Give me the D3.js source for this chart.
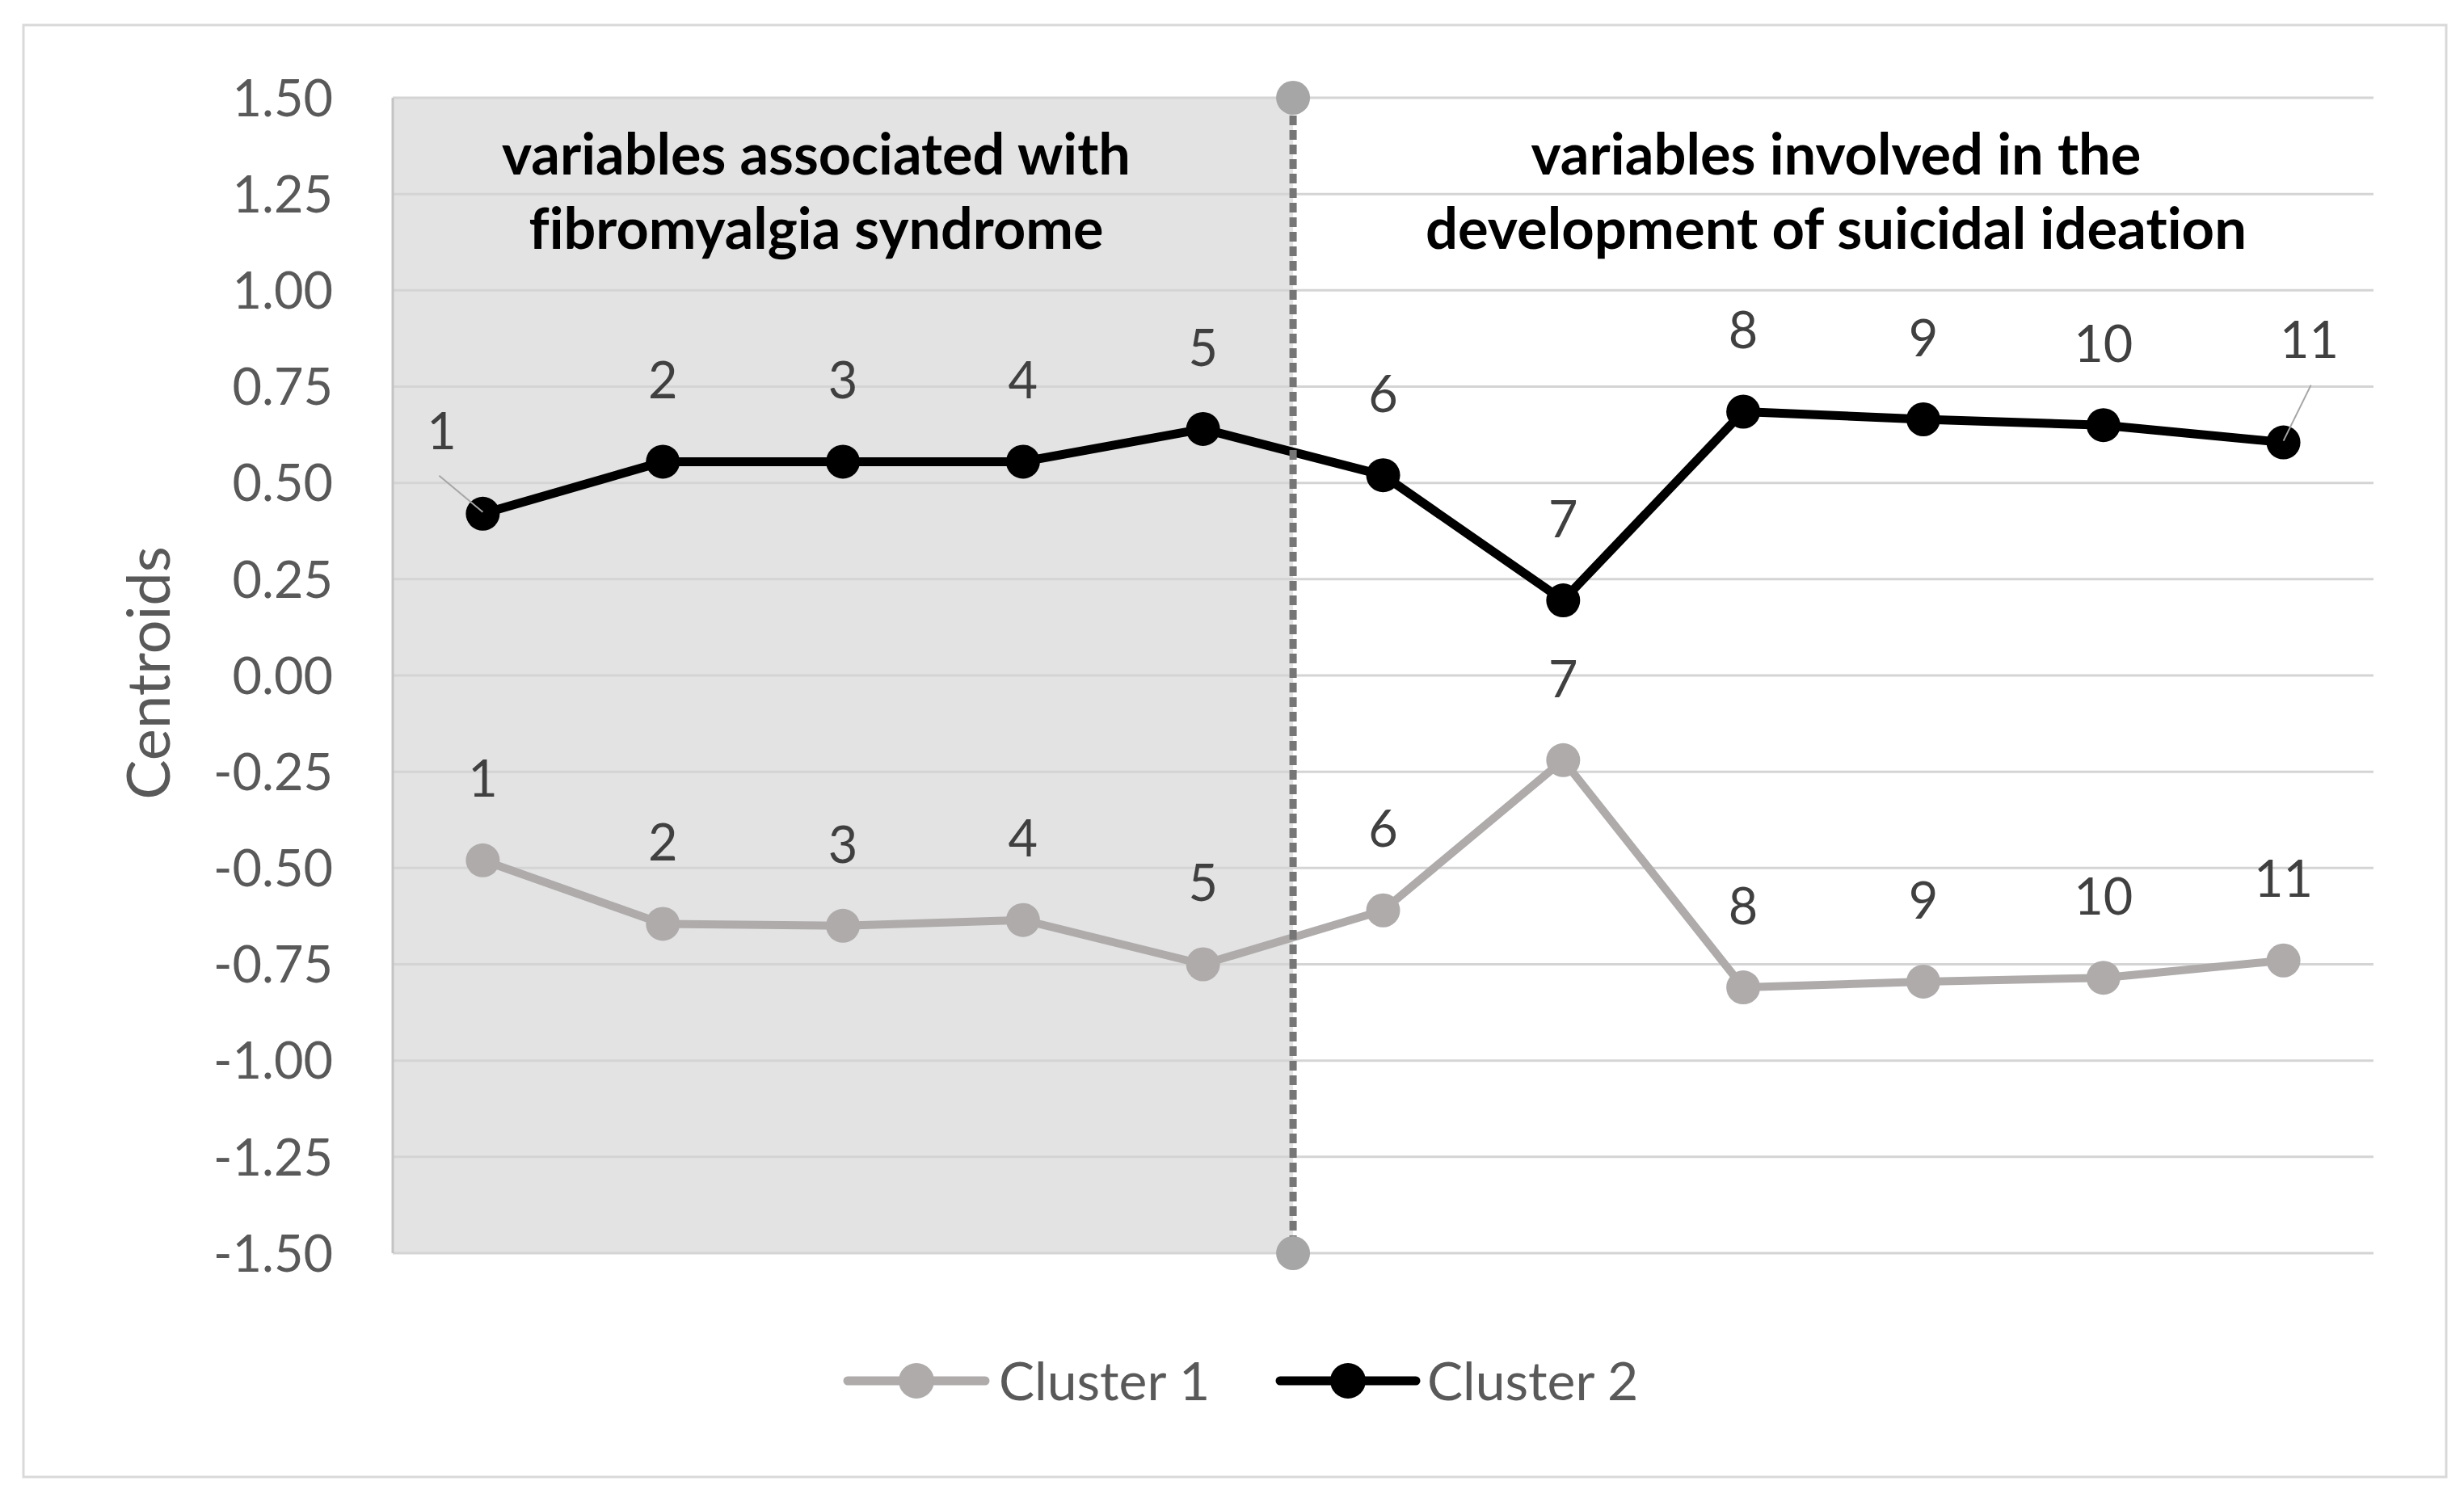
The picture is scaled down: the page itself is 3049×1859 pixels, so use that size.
<!DOCTYPE html>
<html>
<head>
<meta charset="utf-8">
<script src="https://cdn.jsdelivr.net/npm/d3@7"></script>
<style>
  html, body { margin: 0; padding: 0; background: #fff; }
  svg { display: block; font-family: Lato, "Open Sans", sans-serif; }
</style>
</head>
<body>
<div id="chart"></div>
<script>
// Centroids of the two clusters over the 11 variables
const categories = ['1', '2', '3', '4', '5', '6', '7', '8', '9', '10', '11'];
const cluster1 = [-0.48, -0.645, -0.65, -0.635, -0.75, -0.61, -0.22, -0.81, -0.795, -0.785, -0.74];
const cluster2 = [0.42, 0.555, 0.555, 0.555, 0.64, 0.52, 0.195, 0.685, 0.665, 0.65, 0.605];
const yTicks = [1.5, 1.25, 1, 0.75, 0.5, 0.25, 0, -0.25, -0.5, -0.75, -1, -1.25, -1.5];
const dividerBefore = '6';          // boundary between variable groups
const dividerEnds = [1.5, -1.5];
const leftTitle = ['variables associated with', 'fibromyalgia syndrome'];
const rightTitle = ['variables involved in the', 'development of suicidal ideation'];
const seriesNames = ['Cluster 1', 'Cluster 2'];

const W = 3049, H = 1859;
const plot = { left: 486, right: 2937, top: 121, bottom: 1551 };

const svg = d3.select('#chart').append('svg')
  .attr('width', W).attr('height', H);

// outer frame
svg.append('rect')
  .attr('x', 29).attr('y', 31).attr('width', 2998).attr('height', 1797)
  .style('fill', '#fff').style('stroke', '#d9d9d9').style('stroke-width', 3);

const x = d3.scaleBand().domain(categories).range([plot.left, plot.right]);
const y = d3.scaleLinear().domain([-1.5, 1.5]).range([plot.bottom, plot.top]);
const cx = c => x(c) + x.bandwidth() / 2;

// shaded region for the fibromyalgia variables
svg.append('rect')
  .attr('x', plot.left).attr('y', y(1.5))
  .attr('width', x(dividerBefore) - plot.left)
  .attr('height', y(-1.5) - y(1.5))
  .style('fill', '#e3e3e3');

// gridlines
svg.selectAll('.grid')
  .data(yTicks)
  .enter()
  .append('line')
  .attr('class', 'grid')
  .attr('x1', plot.left).attr('x2', plot.right)
  .attr('y1', d => y(d)).attr('y2', d => y(d))
  .style('stroke', '#d4d4d4')
  .style('stroke-width', 3);

svg.append('line')
  .attr('x1', plot.left).attr('x2', plot.left)
  .attr('y1', y(1.5)).attr('y2', y(-1.5))
  .style('stroke', '#c4c4c4').style('stroke-width', 3);

// y tick labels
svg.selectAll('.ytick')
  .data(yTicks)
  .enter()
  .append('text')
  .attr('class', 'ytick')
  .attr('x', 412)
  .attr('y', d => y(d))
  .attr('dy', '0.36em')
  .attr('text-anchor', 'end')
  .style('fill', '#595959')
  .style('font-size', '63px')
  .text(d => d.toFixed(2));

svg.append('text')
  .attr('transform', `translate(210, ${(plot.top + plot.bottom) / 2 - 3}) rotate(-90)`)
  .attr('text-anchor', 'middle')
  .style('fill', '#595959')
  .style('font-size', '74px')
  .text('Centroids');

// section titles, font size fitted to the width seen in the reference
function fitTitle(lines, centerX, widths) {
  lines.forEach((line, i) => {
    const t = svg.append('text')
      .attr('x', centerX)
      .attr('y', 216 + i * 92)
      .attr('text-anchor', 'middle')
      .style('font-weight', 'bold')
      .style('font-variant-ligatures', 'none')
      .style('fill', '#000')
      .style('font-size', '100px')
      .text(line);
    const w = t.node().getComputedTextLength();
    t.style('font-size', (100 * widths[i] / w) + 'px');
  });
}
fitTitle(leftTitle, 1010, [778, 711]);
fitTitle(rightTitle, 2272, [755, 1016]);

// series
const series = [
  { name: seriesNames[0], values: cluster1, color: '#afabab', width: 10 },
  { name: seriesNames[1], values: cluster2, color: '#000000', width: 11 }
];

const line = d3.line()
  .x((d, i) => cx(categories[i]))
  .y(d => y(d));

series.forEach(s => {
  svg.append('path')
    .attr('d', line(s.values))
    .style('fill', 'none')
    .style('stroke', s.color)
    .style('stroke-width', s.width)
    .style('stroke-linejoin', 'round');

  svg.selectAll(null)
    .data(s.values)
    .enter()
    .append('circle')
    .attr('cx', (d, i) => cx(categories[i]))
    .attr('cy', d => y(d))
    .attr('r', 21)
    .style('fill', s.color);
});

// divider between the two groups of variables
const dx = x(dividerBefore);
svg.append('line')
  .attr('x1', dx).attr('x2', dx)
  .attr('y1', y(1.5) + 22).attr('y2', y(-1.5) - 20)
  .style('stroke', '#767676')
  .style('stroke-width', 9)
  .style('stroke-dasharray', '12,6');

svg.selectAll('.divEnd')
  .data(dividerEnds)
  .enter()
  .append('circle')
  .attr('cx', dx)
  .attr('cy', d => y(d))
  .attr('r', 21)
  .style('fill', '#a6a6a6');

// data labels (variable numbers) above each point
const labelOffsets = {
  'Cluster 2': { '1': [-51, -102], '11': [32, -127] }
};
const leaders = {
  'Cluster 2': { '1': [[-54, -47], [0, -2]], '11': [[34, -71], [0, -2]] }
};

series.forEach(s => {
  s.values.forEach((v, i) => {
    const c = categories[i];
    const px = cx(c), py = y(v);
    const off = (labelOffsets[s.name] && labelOffsets[s.name][c]) || [0, -101];
    const ld = leaders[s.name] && leaders[s.name][c];
    if (ld) {
      svg.append('line')
        .attr('x1', px + ld[0][0]).attr('y1', py + ld[0][1])
        .attr('x2', px + ld[1][0]).attr('y2', py + ld[1][1])
        .style('stroke', '#a6a6a6').style('stroke-width', 2);
    }
    svg.append('text')
      .attr('x', px + off[0])
      .attr('y', py + off[1])
      .attr('dy', '0.36em')
      .attr('text-anchor', 'middle')
      .style('fill', '#404040')
      .style('font-size', '63px')
      .text(c);
  });
});

// legend
const legend = [
  { s: series[0], x0: 1049, x1: 1219, tx: 1236 },
  { s: series[1], x0: 1584, x1: 1752, tx: 1766 }
];
const ly = 1709;
legend.forEach(l => {
  svg.append('line')
    .attr('x1', l.x0).attr('x2', l.x1)
    .attr('y1', ly).attr('y2', ly)
    .style('stroke', l.s.color).style('stroke-width', 11)
    .style('stroke-linecap', 'round');
  svg.append('circle')
    .attr('cx', (l.x0 + l.x1) / 2).attr('cy', ly).attr('r', 22)
    .style('fill', l.s.color);
  svg.append('text')
    .attr('x', l.tx).attr('y', ly)
    .attr('dy', '0.36em')
    .style('fill', '#595959')
    .style('font-size', '66px')
    .text(l.s.name);
});
</script>
</body>
</html>
